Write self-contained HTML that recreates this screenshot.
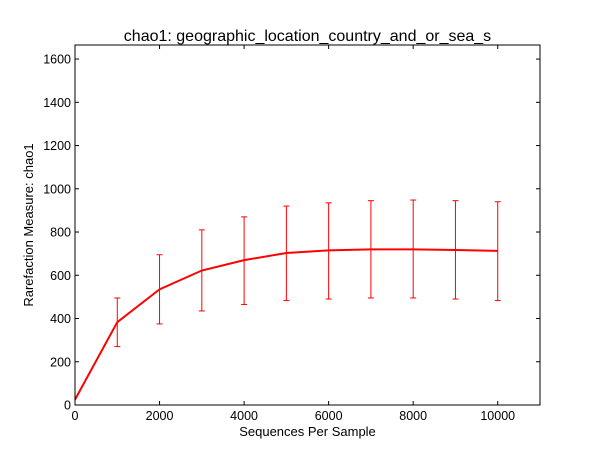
<!DOCTYPE html>
<html><head><meta charset="utf-8"><style>
body{margin:0;background:#fff;}
svg text{font-family:"Liberation Sans","DejaVu Sans",sans-serif;}
</style></head><body>
<svg id="chart" width="600" height="450">
<rect x="0" y="0" width="600" height="450" fill="#fff"/>
<g id="plot"></g>
</svg>
<script>
const xVals=[0,1000,2000,3000,4000,5000,6000,7000,8000,9000,10000];
const meanVals=[25,383,535,622,670,703,715,720,720,717,713];
const lowVals=[25,270,375,435,465,483,490,495,495,490,483];
const highVals=[25,495,695,810,870,920,935,945,948,945,940];
const xTicks=[0,2000,4000,6000,8000,10000];
const yTicks=[0,200,400,600,800,1000,1200,1400,1600];
const L=75,R=540,T=45,B=405,XMAX=11000,YMAX=1665;
const sx=v=>L+v/XMAX*(R-L), sy=v=>B-v/YMAX*(B-T);
const NS="http://www.w3.org/2000/svg";
const g=document.getElementById('plot');
function mk(t,a,p){const e=document.createElementNS(NS,t);for(const k in a)e.setAttribute(k,a[k]);(p||g).appendChild(e);return e;}
xVals.forEach((x,i)=>{
 if(i===0)return;
 const X=sx(x);
 const eb=mk('g',{});
 
 
 mk('line',{x1:X,x2:X,y1:sy(lowVals[i]),y2:sy(highVals[i]),stroke:'red','stroke-width':1},eb);
 mk('line',{x1:X-3,x2:X+3,y1:sy(lowVals[i]),y2:sy(lowVals[i]),stroke:'red','stroke-width':1},eb);
 mk('line',{x1:X-3,x2:X+3,y1:sy(highVals[i]),y2:sy(highVals[i]),stroke:'red','stroke-width':1},eb);
});
const line=mk('polyline',{points:xVals.map((x,i)=>sx(x)+','+sy(meanVals[i])).join(' '),fill:'none',stroke:'red','stroke-width':2});


const fr=mk('rect',{x:L,y:T,width:R-L,height:B-T,fill:'none',stroke:'#000','stroke-width':1});


xTicks.forEach(v=>{
 const X=sx(v);
 mk('line',{x1:X,x2:X,y1:B,y2:B-4,stroke:'#000'});
 mk('line',{x1:X,x2:X,y1:T,y2:T+4,stroke:'#000'});
 const t=mk('text',{x:X,y:B+15,'text-anchor':'middle','font-size':12.5});
 t.textContent=v;
 
 
});
yTicks.forEach(v=>{
 const Y=sy(v);
 mk('line',{x1:L,x2:L+4,y1:Y,y2:Y,stroke:'#000'});
 mk('line',{x1:R,x2:R-4,y1:Y,y2:Y,stroke:'#000'});
 const t=mk('text',{x:L-4,y:Y+4.5,'text-anchor':'end','font-size':12.5});
 t.textContent=v;
 
 
});
const title=mk('text',{x:(L+R)/2,y:41,'text-anchor':'middle','font-size':16});
title.textContent='chao1: geographic_location_country_and_or_sea_s';


const xl=mk('text',{x:(L+R)/2,y:436,'text-anchor':'middle','font-size':13});
xl.textContent='Sequences Per Sample';


const yl=mk('text',{x:0,y:0,'text-anchor':'middle','font-size':13,transform:'translate(33,225) rotate(-90)'});
yl.textContent='Rarefaction Measure: chao1';


</script>
</body></html>
